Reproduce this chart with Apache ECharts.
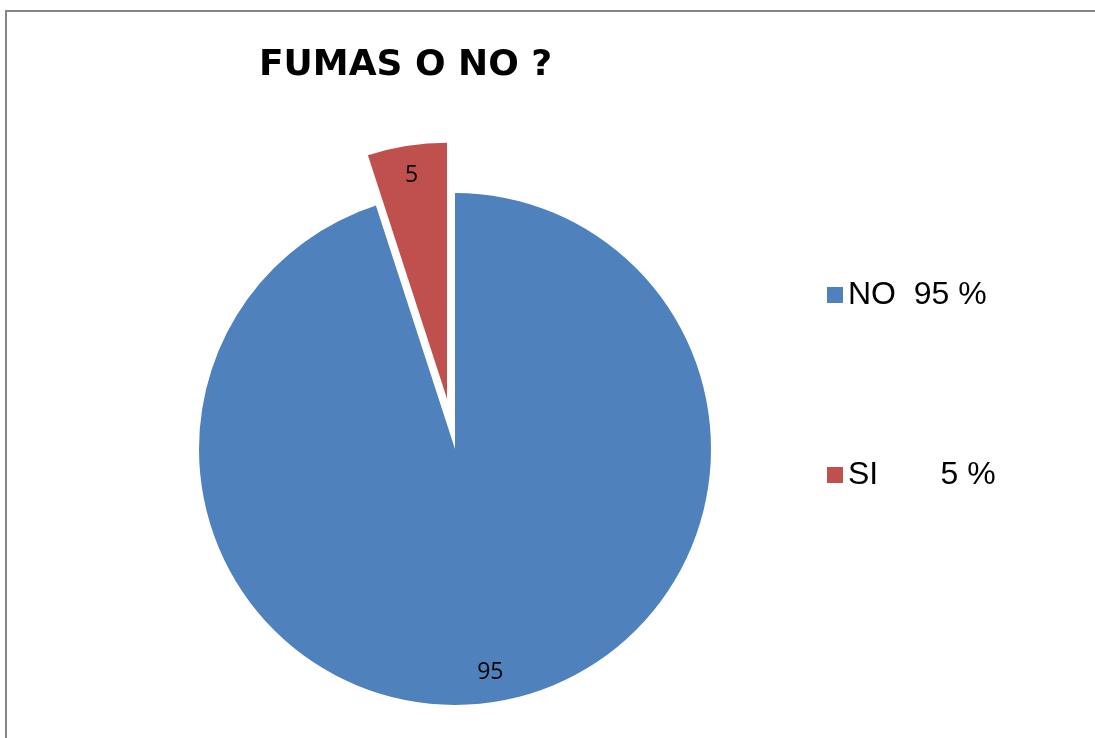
<!DOCTYPE html>
<html>
<head>
<meta charset="utf-8">
<script src="https://cdn.jsdelivr.net/npm/echarts@6/dist/echarts.min.js"></script>
<style>
html,body{margin:0;padding:0;background:#fff;}
#chart{width:1095px;height:738px;}
</style>
</head>
<body>
<div id="chart"></div>
<script>
const titleText = 'FUMAS O NO ?';
const categories = ['NO', 'SI'];
const values = [95, 5];
const legendLabels = ['NO  95 %', 'SI       5 %'];
const colors = ['#4F81BD', '#C0504D'];
const explodedCategory = 'SI';

const chart = echarts.init(document.getElementById('chart'), null, {renderer: 'canvas'});

const pieData = categories.map((c, i) => ({
  name: c,
  value: values[i],
  selected: c === explodedCategory,
  itemStyle: {color: colors[i]}
}));
const labelData = categories.map((c, i) => ({
  name: c,
  value: values[i],
  selected: c === explodedCategory
}));

const option = {
  animation: false,
  backgroundColor: '#ffffff',
  graphic: [{
    type: 'rect',
    shape: {x: 6, y: 11, width: 1300, height: 900},
    style: {fill: 'none', stroke: '#868686', lineWidth: 2},
    silent: true,
    z: 0
  }],
  title: {
    text: titleText,
    left: 254,
    top: 43,
    textStyle: {fontFamily: 'DejaVu Sans', fontWeight: 'bold', fontSize: 36, color: '#000'}
  },
  legend: {
    orient: 'vertical',
    left: 822,
    top: 274,
    itemWidth: 16,
    itemHeight: 16,
    itemGap: 148,
    icon: 'rect',
    selectedMode: false,
    data: categories.map((c, i) => ({name: c, itemStyle: {color: colors[i]}})),
    formatter: name => legendLabels[categories.indexOf(name)],
    textStyle: {fontFamily: 'Liberation Sans', fontSize: 32, color: '#000'}
  },
  series: [
    {
      type: 'pie',
      center: [455, 449],
      radius: 256,
      startAngle: 90,
      clockwise: true,
      selectedMode: 'single',
      selectedOffset: 51,
      emphasis: {disabled: true},
      itemStyle: {borderWidth: 0},
      label: {show: false},
      labelLine: {show: false},
      data: pieData
    },
    {
      type: 'pie',
      center: [455, 449],
      radius: 446,
      startAngle: 90,
      clockwise: true,
      selectedMode: 'single',
      selectedOffset: 51,
      silent: true,
      emphasis: {disabled: true},
      itemStyle: {color: 'rgba(0,0,0,0)', borderWidth: 0},
      label: {
        show: true,
        position: 'inside',
        formatter: '{c}',
        fontFamily: 'Open Sans',
        fontSize: 23,
        color: '#000'
      },
      labelLine: {show: false},
      data: labelData
    }
  ]
};
chart.setOption(option);
</script>
</body>
</html>
